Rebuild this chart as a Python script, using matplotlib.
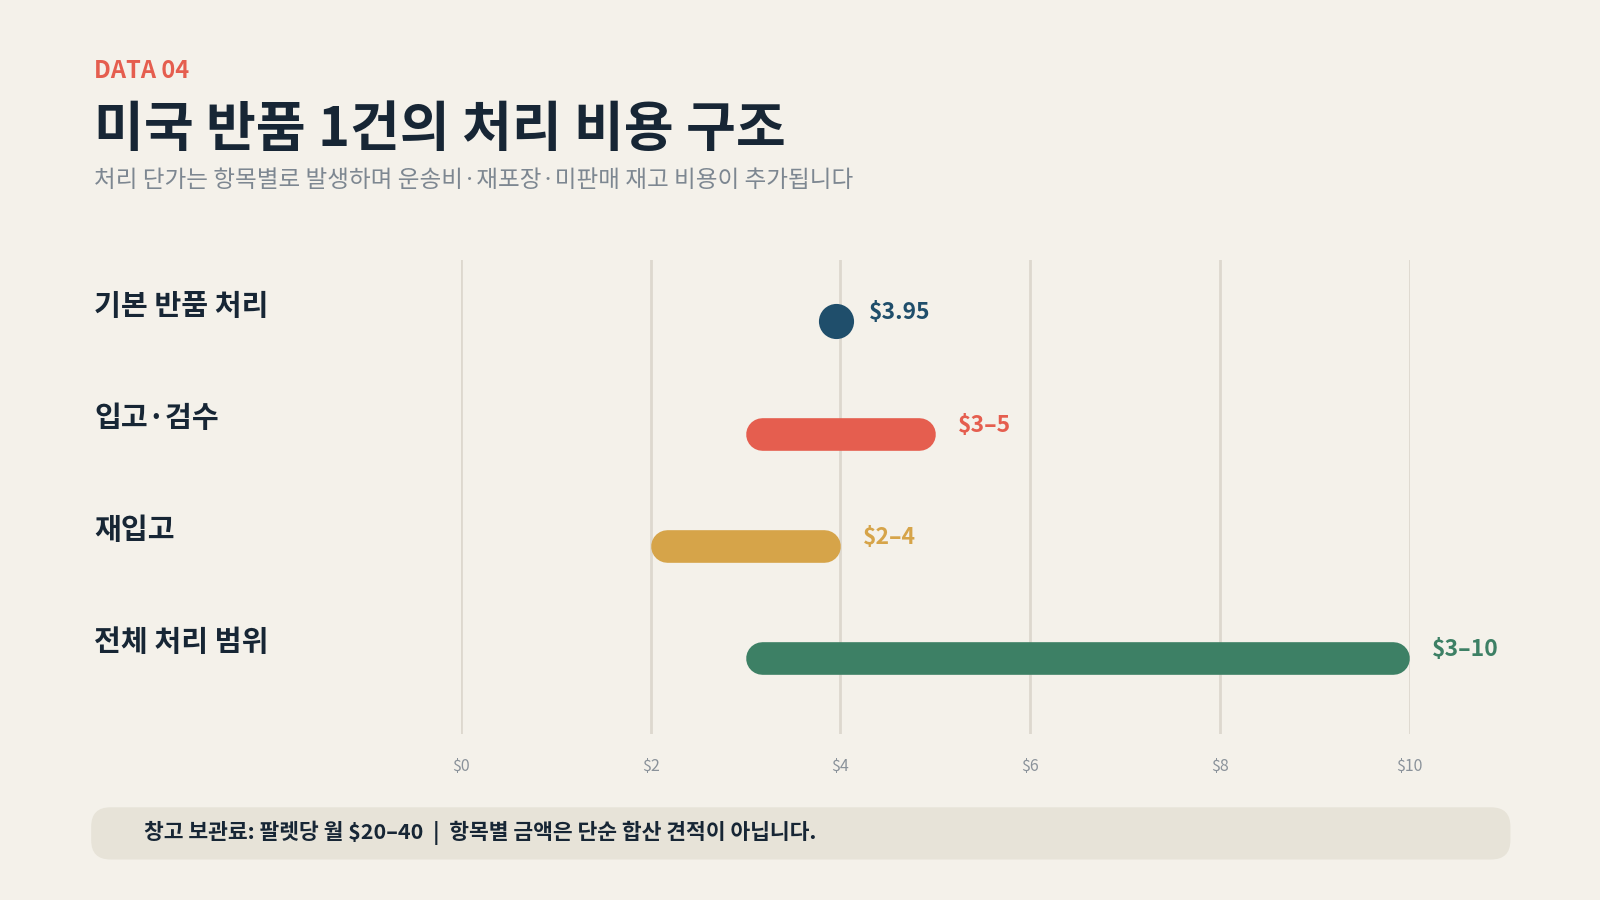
import matplotlib
matplotlib.use("Agg")
import matplotlib.pyplot as plt
import matplotlib.transforms as mtransforms
from matplotlib.patches import FancyBboxPatch

plt.rcParams['font.family'] = ['Noto Sans CJK KR', 'DejaVu Sans']

# data
categories = ['기본 반품 처리', '입고·검수', '재입고', '전체 처리 범위']
low = [3.95, 3, 2, 3]
high = [3.95, 5, 4, 10]
value_labels = ['$3.95', '$3–5', '$2–4', '$3–10']
colors = ['#1F4E6B', '#E55E4F', '#D6A449', '#3D8065']
xticks = [0, 2, 4, 6, 8, 10]
xtick_labels = ['$0', '$2', '$4', '$6', '$8', '$10']

bg = '#F4F1EA'
dark = '#172635'

fig = plt.figure(figsize=(16, 9), dpi=100, facecolor=bg)

fig.text(0.059, 0.921, 'DATA 04', color='#E55E4F', fontsize=17, fontweight='bold', va='center')
fig.text(0.059, 0.855, '미국 반품 1건의 처리 비용 구조', color=dark, fontsize=39, fontweight='bold',
         va='center')
fig.text(0.059, 0.799, '처리 단가는 항목별로 발생하며 운송비·재포장·미판매 재고 비용이 추가됩니다',
         color='#7D8791', fontsize=17, va='center')

ax = fig.add_axes([0.288, 0.184, 0.593, 0.527])
ax.set_facecolor(bg)
ax.set_xlim(0, 10)
ax.set_ylim(3.68, -0.545)
for s in ax.spines.values():
    s.set_visible(False)
ax.set_xticks(xticks)
ax.set_xticklabels(xtick_labels)
ax.tick_params(axis='x', length=0, labelsize=11.5, labelcolor='#8A929A', pad=17)
ax.set_yticks([])
ax.grid(axis='x', color='#DDD8CE', linewidth=2)
ax.set_axisbelow(True)

lw = 23.5
ax_w_px = 0.593 * fig.get_figwidth() * fig.dpi
r_data = (lw * fig.dpi / 72 / 2) * 10 / ax_w_px

for i, (lo, hi) in enumerate(zip(low, high)):
    if lo == hi:
        ax.scatter([lo], [i], s=640, color=colors[i], zorder=3, linewidths=0)
        off = 24
    else:
        ax.plot([lo + r_data, hi - r_data], [i, i], color=colors[i], linewidth=lw,
                solid_capstyle='round', zorder=3)
        off = 16
    ax.annotate(value_labels[i], (hi, i - 0.075), xytext=(off, 0), textcoords='offset points',
                color=colors[i], fontsize=16.5, fontweight='bold', va='center', ha='left',
                annotation_clip=False)

trans = mtransforms.blended_transform_factory(fig.transFigure, ax.transData)
for i, c in enumerate(categories):
    fig.text(0.059, i - 0.14, c, color=dark, fontsize=21, fontweight='bold', va='center',
             transform=trans)

box = FancyBboxPatch((0.057, 0.045), 0.887, 0.058, boxstyle='round,pad=0,rounding_size=0.012',
                     transform=fig.transFigure, facecolor='#E7E3D8', edgecolor='none',
                     mutation_aspect=16 / 9)
fig.patches.append(box)
fig.text(0.090, 0.075, '창고 보관료: 팔렛당 월 $20–40  |  항목별 금액은 단순 합산 견적이 아닙니다.',
         color=dark, fontsize=15.5, fontweight='bold', va='center')

fig.savefig('out.png', dpi=100, facecolor=bg)
